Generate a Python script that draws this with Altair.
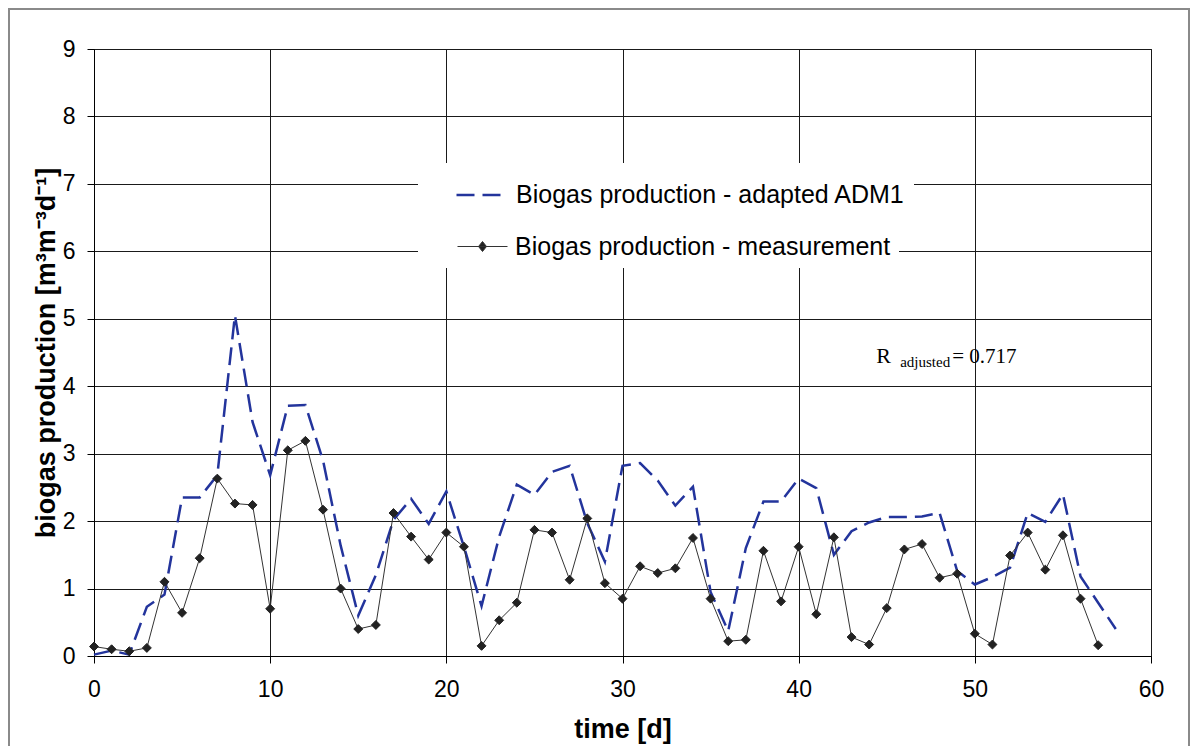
import altair as alt
import pandas as pd

# ---- data ----
days_model = list(range(59))
model_values = [0.02, 0.08, 0.02, 0.73, 0.91, 2.35, 2.35, 2.68, 5.05, 3.47,
                2.68, 3.71, 3.72, 2.90, 1.64, 0.60, 1.20, 2.02, 2.33, 1.96,
                2.44, 1.62, 0.74, 1.77, 2.54, 2.39, 2.73, 2.82, 1.97, 1.40,
                2.82, 2.86, 2.60, 2.23, 2.51, 0.95, 0.37, 1.60, 2.29, 2.29,
                2.63, 2.49, 1.50, 1.85, 1.98, 2.06, 2.06, 2.07, 2.12, 1.26,
                1.06, 1.17, 1.31, 2.12, 1.99, 2.40, 1.18, 0.79, 0.40]

days_meas = list(range(58))
meas_values = [0.14, 0.10, 0.07, 0.12, 1.10, 0.64, 1.45, 2.63, 2.26, 2.24,
               0.70, 3.05, 3.19, 2.17, 1.00, 0.40, 0.46, 2.12, 1.77, 1.43,
               1.83, 1.62, 0.15, 0.53, 0.79, 1.87, 1.83, 1.13, 2.04, 1.08,
               0.85, 1.33, 1.23, 1.30, 1.75, 0.85, 0.22, 0.24, 1.56, 0.81,
               1.62, 0.62, 1.76, 0.28, 0.17, 0.71, 1.58, 1.66, 1.16, 1.22,
               0.33, 0.17, 1.49, 1.83, 1.28, 1.79, 0.85, 0.16]

LBL_MODEL = "Biogas production - adapted ADM1"
LBL_MEAS = "Biogas production - measurement"

x_ticks = [0, 10, 20, 30, 40, 50, 60]
y_ticks = [0, 1, 2, 3, 4, 5, 6, 7, 8, 9]

r_pos_t = [44.4]
r_pos_v = [4.35]

BLUE = "#23349c"
DARK = "#222222"
SANS = "Liberation Sans"
SERIF = "Liberation Serif"

df_model = pd.DataFrame({"t": days_model, "v": model_values, "series": LBL_MODEL})
df_meas = pd.DataFrame({"t": days_meas, "v": meas_values, "series": LBL_MEAS})
df_r = pd.DataFrame({"t": r_pos_t, "v": r_pos_v})

xs = alt.Scale(domain=[0, 60], nice=False, zero=True)
ys = alt.Scale(domain=[0, 9], nice=False, zero=True)

x_axis = alt.Axis(values=x_ticks, title="time [d]", format="d", labelFlush=False)
y_axis = alt.Axis(values=y_ticks, title="biogas production [m³m⁻³d⁻¹]", format="d",
                  labelFlush=False)

X = alt.X("t:Q", scale=xs, axis=x_axis)
Y = alt.Y("v:Q", scale=ys, axis=y_axis)

legend_common = dict(
    title=None, orient="none", labelFont=SANS, labelFontSize=25,
    labelColor="#000000", labelLimit=700, fillColor="white", padding=8,
    legendX=324,
)

model_line = alt.Chart(df_model).mark_line(color=BLUE, strokeWidth=2.5).encode(
    x=X, y=Y,
    strokeDash=alt.StrokeDash(
        "series:N",
        scale=alt.Scale(domain=[LBL_MODEL], range=[[18, 8]]),
        legend=alt.Legend(
            legendY=114, symbolType="stroke", symbolSize=2025,
            symbolStrokeWidth=2.5, symbolStrokeColor=BLUE,
            symbolOffset=29, labelOffset=13, **legend_common,
        ),
    ),
)

meas_line = alt.Chart(df_meas).mark_line(color="#333333", strokeWidth=1).encode(
    x=X, y=Y,
)

meas_pts = alt.Chart(df_meas).mark_point(
    shape="diamond", filled=True, size=80, opacity=1, stroke=DARK, strokeWidth=1
).encode(
    x=X, y=Y,
    color=alt.Color(
        "series:N",
        scale=alt.Scale(domain=[LBL_MEAS], range=[DARK]),
        legend=alt.Legend(
            legendY=164,
            symbolType="M-1,0L1,0M0,-0.2L0.16,0L0,0.2L-0.16,0Z",
            symbolSize=2500, symbolStrokeWidth=1, symbolStrokeColor="#333333",
            symbolFillColor=DARK, symbolOffset=31, labelOffset=7,
            **legend_common,
        ),
    ),
)

# outer frame of the figure
frame = alt.Chart(df_r).mark_rect(
    fill=None, stroke="#8a8a8a", strokeWidth=2
).encode(
    x=alt.value(-85), x2=alt.value(1095), y=alt.value(-40), y2=alt.value(760)
)

r_main = alt.Chart(df_r).mark_text(
    text="R", font=SERIF, fontSize=22, align="left", baseline="alphabetic", color="#000"
).encode(x=X, y=Y)
r_sub = alt.Chart(df_r).mark_text(
    text="adjusted", font=SERIF, fontSize=15, align="left", baseline="alphabetic",
    dx=24, dy=4, color="#000"
).encode(x=X, y=Y)
r_val = alt.Chart(df_r).mark_text(
    text="= 0.717", font=SERIF, fontSize=21, align="left", baseline="alphabetic",
    dx=76, color="#000"
).encode(x=X, y=Y)

chart = alt.layer(frame, model_line, meas_line, meas_pts, r_main, r_sub, r_val).properties(
    width=1057, height=607,
    padding={"left": 86, "top": 41, "right": 40, "bottom": 90},
    autosize=alt.AutoSizeParams(type="none"),
).configure_view(
    stroke="#000000", strokeWidth=1
).configure_axis(
    grid=True, gridColor="#1a1a1a", gridWidth=1, gridOpacity=1,
    domainColor="#000000", tickColor="#000000", tickWidth=1,
    labelFont=SANS, labelFontSize=23, labelColor="#000000",
    titleFont=SANS, titleFontSize=27, titleFontWeight="bold", titleColor="#000000",
).configure_axisX(
    tickSize=7, labelPadding=15, titlePadding=15,
).configure_axisY(
    tickSize=7, labelPadding=12, titlePadding=2,
)

chart.save("out.html", embed_options={"renderer": "svg", "actions": False})
